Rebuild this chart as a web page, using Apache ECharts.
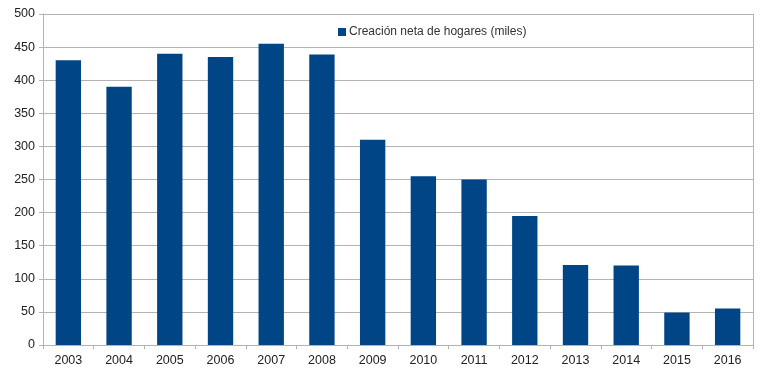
<!DOCTYPE html>
<html><head><meta charset="utf-8">
<script src="https://cdn.jsdelivr.net/npm/echarts@6/dist/echarts.min.js"></script>
<style>html,body{margin:0;padding:0;background:#fff}#c{width:768px;height:373px}</style>
</head><body><div id="c"></div>
<script>
var categories = ['2003','2004','2005','2006','2007','2008','2009','2010','2011','2012','2013','2014','2015','2016'];
var values = [430, 390, 440, 435, 455, 439, 310, 255, 250, 195, 121, 120, 49, 55];
var seriesName = 'Creación neta de hogares (miles)';
var yTicks = {min: 0, max: 500, interval: 50};

var chart = echarts.init(document.getElementById('c'), null, {renderer: 'canvas'});
chart.setOption({
  animation: false,
  backgroundColor: '#fff',
  textStyle: {fontFamily: 'Liberation Sans'},
  grid: {left: 43, right: 15, top: 14, bottom: 28, containLabel: false},
  legend: {
    data: [seriesName], left: 333, top: 21, itemWidth: 8, itemHeight: 8, itemGap: 4,
    icon: 'rect', textStyle: {fontSize: 12, color: '#333', fontFamily: 'Liberation Sans', padding: [0,0,0,-2]}
  },
  xAxis: {
    type: 'category', data: categories,
    axisLine: {lineStyle: {color: '#b3b3b3'}},
    axisTick: {show: true, alignWithLabel: false, length: 4, lineStyle: {color: '#b3b3b3'}},
    axisLabel: {color: '#222', fontSize: 12.5, margin: 9, fontFamily: 'Liberation Sans'},
    splitLine: {show: false}
  },
  yAxis: [{
    type: 'value', min: yTicks.min, max: yTicks.max, interval: yTicks.interval,
    axisLine: {show: true, lineStyle: {color: '#b3b3b3'}},
    axisTick: {show: true, length: 4, lineStyle: {color: '#b3b3b3'}},
    axisLabel: {color: '#222', fontSize: 12.5, margin: 8, fontFamily: 'Liberation Sans'},
    splitLine: {show: true, lineStyle: {color: '#b3b3b3', width: 1}}
  }, {
    type: 'value', position: 'right', min: yTicks.min, max: yTicks.max, interval: yTicks.interval,
    axisLine: {show: true, lineStyle: {color: '#b3b3b3'}},
    axisTick: {show: false}, axisLabel: {show: false}, splitLine: {show: false}
  }],
  series: [{
    name: seriesName, type: 'bar', data: values, barWidth: '50%', yAxisIndex: 0,
    itemStyle: {color: '#004586'}
  }]
});
</script></body></html>
